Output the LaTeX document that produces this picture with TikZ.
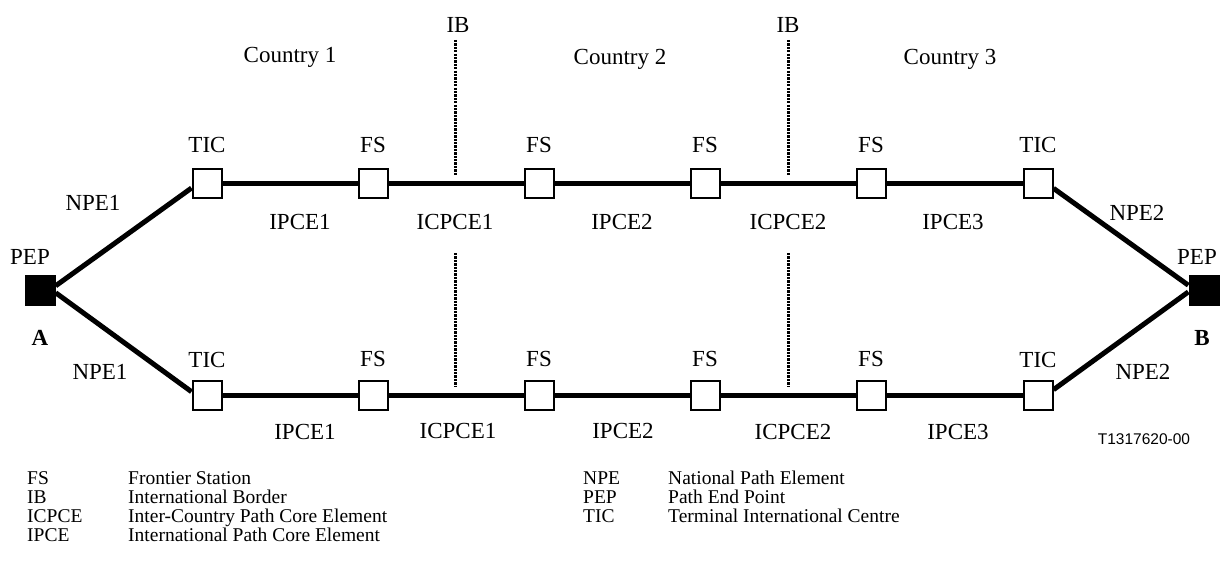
\documentclass[tikz,border=0pt]{standalone}
\usepackage{fontspec}
\setmainfont{Liberation Serif}
\newfontfamily\sfT{Liberation Sans}
\begin{document}
\begin{tikzpicture}[x=1pt,y=-1pt,
 box/.style={draw, fill=white, line width=2pt, minimum size=29pt, inner sep=0pt},
 pep/.style={fill=black, minimum size=31pt, inner sep=0pt},
 lab/.style={font=\fontsize{23}{27}\selectfont, text height=15.2pt, text depth=0pt, inner sep=0pt},
 leg/.style={font=\fontsize{19.5}{23}\selectfont, text height=12.9pt, text depth=0pt, inner sep=0pt, anchor=west},
 link/.style={line width=5pt},
 ibline/.style={line width=3pt, dash pattern=on 2.3pt off 1.1pt}]
\useasboundingbox (0,0) rectangle (1221,578);

% end points
\node[pep] (pA) at (40,290) {};
\node[pep] (pB) at (1204,290) {};

% top row
\node[box] (t1) at (207,183) {};
\node[box] (t2) at (373,183) {};
\node[box] (t3) at (539,183) {};
\node[box] (t4) at (705,183) {};
\node[box] (t5) at (871,183) {};
\node[box] (t6) at (1038,183) {};
% bottom row
\node[box] (b1) at (207,395) {};
\node[box] (b2) at (373,395) {};
\node[box] (b3) at (539,395) {};
\node[box] (b4) at (705,395) {};
\node[box] (b5) at (871,395) {};
\node[box] (b6) at (1038,395) {};

% links
\draw[link] (pA.15) -- (t1.198);
\draw[link] (pA.-10) -- (b1.168);
\draw[link] (t6.-19) -- (pB.163);
\draw[link] (b6.19) -- (pB.187);
\draw[link] (t1) -- (t2);
\draw[link] (t2) -- (t3);
\draw[link] (t3) -- (t4);
\draw[link] (t4) -- (t5);
\draw[link] (t5) -- (t6);
\draw[link] (b1) -- (b2);
\draw[link] (b2) -- (b3);
\draw[link] (b3) -- (b4);
\draw[link] (b4) -- (b5);
\draw[link] (b5) -- (b6);

% international borders
\coordinate (i1a) at (455,40);
\coordinate (i1b) at (455,175);
\coordinate (i2a) at (788,40);
\coordinate (i2b) at (788,175);
\coordinate (i3a) at (455,253);
\coordinate (i3b) at (455,387);
\coordinate (i4a) at (788,253);
\coordinate (i4b) at (788,387);
\draw[ibline] (i1a) -- (i1b);
\draw[ibline] (i2a) -- (i2b);
\draw[ibline] (i3a) -- (i3b);
\draw[ibline] (i4a) -- (i4b);

% labels
\node[lab] (lib1) at (458,25) {IB};
\node[lab] (lib2) at (788,25) {IB};
\node[lab] (lc1) at (290,55) {Country 1};
\node[lab] (lc2) at (620,57) {Country 2};
\node[lab] (lc3) at (950,57) {Country 3};

\node[lab] (lt1) at (207,145) {TIC};
\node[lab] (lt2) at (373,145) {FS};
\node[lab] (lt3) at (539,145) {FS};
\node[lab] (lt4) at (705,145) {FS};
\node[lab] (lt5) at (871,145) {FS};
\node[lab] (lt6) at (1038,145) {TIC};
\node[lab] (lb1) at (207,360) {TIC};
\node[lab] (lb2) at (373,359) {FS};
\node[lab] (lb3) at (539,359) {FS};
\node[lab] (lb4) at (705,359) {FS};
\node[lab] (lb5) at (871,359) {FS};
\node[lab] (lb6) at (1038,360) {TIC};

\node[lab] (st1) at (300,222) {IPCE1};
\node[lab] (st2) at (455,222) {ICPCE1};
\node[lab] (st3) at (622,222) {IPCE2};
\node[lab] (st4) at (788,222) {ICPCE2};
\node[lab] (st5) at (953,222) {IPCE3};
\node[lab] (sb1) at (305,432) {IPCE1};
\node[lab] (sb2) at (458,431) {ICPCE1};
\node[lab] (sb3) at (623,431) {IPCE2};
\node[lab] (sb4) at (793,432) {ICPCE2};
\node[lab] (sb5) at (958,432) {IPCE3};

\node[lab] (npe1t) at (93,203) {NPE1};
\node[lab] (npe1b) at (100,372) {NPE1};
\node[lab] (npe2t) at (1137,213) {NPE2};
\node[lab] (npe2b) at (1143,372) {NPE2};

\node[lab] (lpA) at (30,257) {PEP};
\node[lab] (lpB) at (1197,257) {PEP};
\node[lab, font=\fontsize{23}{27}\selectfont\bfseries] (lA) at (40,338) {A};
\node[lab, font=\fontsize{23}{27}\selectfont\bfseries] (lB) at (1202,338) {B};

\node[inner sep=0pt, font=\sfT\fontsize{15.5}{18}\selectfont, text height=11.1pt, text depth=0pt] (ref) at (1144,439) {T1317620-00};

% legend
\node[leg] (k1) at (27,478) {FS};
\node[leg] (k2) at (27,497) {IB};
\node[leg] (k3) at (27,516) {ICPCE};
\node[leg] (k4) at (27,535) {IPCE};
\node[leg] (d1) at (128,478) {Frontier Station};
\node[leg] (d2) at (128,497) {International Border};
\node[leg] (d3) at (128,516) {Inter-Country Path Core Element};
\node[leg] (d4) at (128,535) {International Path Core Element};
\node[leg] (k5) at (583,478) {NPE};
\node[leg] (k6) at (583,497) {PEP};
\node[leg] (k7) at (583,516) {TIC};
\node[leg] (d5) at (668,478) {National Path Element};
\node[leg] (d6) at (668,497) {Path End Point};
\node[leg] (d7) at (668,516) {Terminal International Centre};
\end{tikzpicture}
\end{document}
